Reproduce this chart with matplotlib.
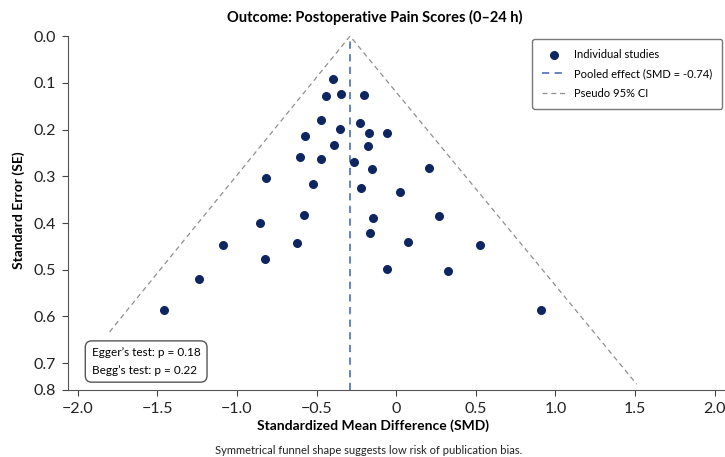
import numpy as np
import matplotlib
matplotlib.use("Agg")
import matplotlib.pyplot as plt

plt.rcParams['font.family'] = ['Lato', 'DejaVu Sans']

# study effect sizes and their standard errors
smd = [-0.40, -0.44, -0.345, -0.20, -0.475, -0.228, -0.351, -0.169, -0.058, -0.571,
       -0.393, -0.18, -0.602, -0.470, -0.268, -0.152, -0.817, -0.525, -0.221, 0.209,
       0.023, -0.581, -0.853, -0.146, -0.165, -1.089, -0.623, -0.821, -0.058, -1.239,
       -1.459, 0.27, 0.075, 0.527, 0.328, 0.911]
se = [0.091, 0.128, 0.123, 0.126, 0.179, 0.185, 0.198, 0.208, 0.208, 0.213,
      0.233, 0.236, 0.258, 0.263, 0.269, 0.285, 0.304, 0.316, 0.325, 0.282,
      0.333, 0.383, 0.401, 0.390, 0.421, 0.446, 0.442, 0.478, 0.499, 0.520,
      0.587, 0.386, 0.441, 0.448, 0.503, 0.587]

pooled = -0.29
pooled_label = -0.74
# pseudo confidence limits (ends of the funnel)
funnel_left = (-1.80, 0.633)
funnel_right = (1.51, 0.745)

egger_p = 0.18
begg_p = 0.22

fig = plt.figure(figsize=(7.25, 4.57), dpi=100)
ax = fig.add_axes([0.094, 0.147, 0.905, 0.774])

ax.plot([funnel_left[0], pooled, funnel_right[0]],
        [funnel_left[1], 0, funnel_right[1]],
        ls=(0, (4, 3)), color='#8f8f8f', lw=0.9, label='Pseudo 95% CI')
ax.axvline(pooled, ls=(0, (4, 3)), color='#5a78c0', lw=1.3,
           label=f'Pooled effect (SMD = {pooled_label:.2f})')
ax.scatter(smd, se, s=30, color='#0d2560', zorder=3, label='Individual studies')

ax.set_xlim(-2.06, 2.06)
ax.set_ylim(0.757, 0)
ax.set_xticks([-2.0, -1.5, -1.0, -0.5, 0, 0.5, 1.0, 1.5, 2.0])
ax.set_xticklabels(['\u22122.0', '\u22121.5', '\u22121.0', '\u22120.5', '0', '0.5', '1.0', '1.5', '2.0'])
yt = [0.0, 0.1, 0.2, 0.3, 0.4, 0.5, 0.6, 0.7, 0.757]
ax.set_yticks(yt)
ax.set_yticklabels(['0.0', '0.1', '0.2', '0.3', '0.4', '0.5', '0.6', '0.7', '0.8'])
ax.tick_params(labelsize=11.5, length=4, color='#444444', labelcolor='#222222', pad=5)
for s in ['top', 'right']:
    ax.spines[s].set_visible(False)
for s in ['left', 'bottom']:
    ax.spines[s].set_color('#555555')

fig.text(0.514, 0.068, 'Standardized Mean Difference (SMD)', ha='center', va='center',
         fontsize=10, fontweight='bold')
fig.text(0.026, 0.54, 'Standard Error (SE)', ha='center', va='center', rotation=90,
         fontsize=10, fontweight='bold')
fig.text(0.517, 0.962, 'Outcome: Postoperative Pain Scores (0\u201324 h)',
         ha='center', va='center', fontsize=10.5, fontweight='bold')
fig.text(0.509, 0.015, 'Symmetrical funnel shape suggests low risk of publication bias.',
         ha='center', va='center', fontsize=8, color='#222222')

h, l = ax.get_legend_handles_labels()
order = [2, 1, 0]
leg = ax.legend([h[i] for i in order], [l[i] for i in order], loc='upper right',
                fontsize=8, frameon=True, fancybox=True, edgecolor='#555555',
                bbox_to_anchor=(0.998, 0.995), borderaxespad=0.1, borderpad=0.9,
                labelspacing=0.75, handlelength=2.0)
leg.get_frame().set_linewidth(1.0)

ax.text(0.036, 0.04, f"Egger\u2019s test: p = {egger_p:.2f}\nBegg\u2019s test: p = {begg_p:.2f}",
        transform=ax.transAxes, fontsize=8.5, linespacing=1.7, va='bottom', ha='left',
        bbox=dict(boxstyle='round,pad=0.55', fc='white', ec='#555555', lw=1.0))

fig.savefig('out.png', dpi=100)
